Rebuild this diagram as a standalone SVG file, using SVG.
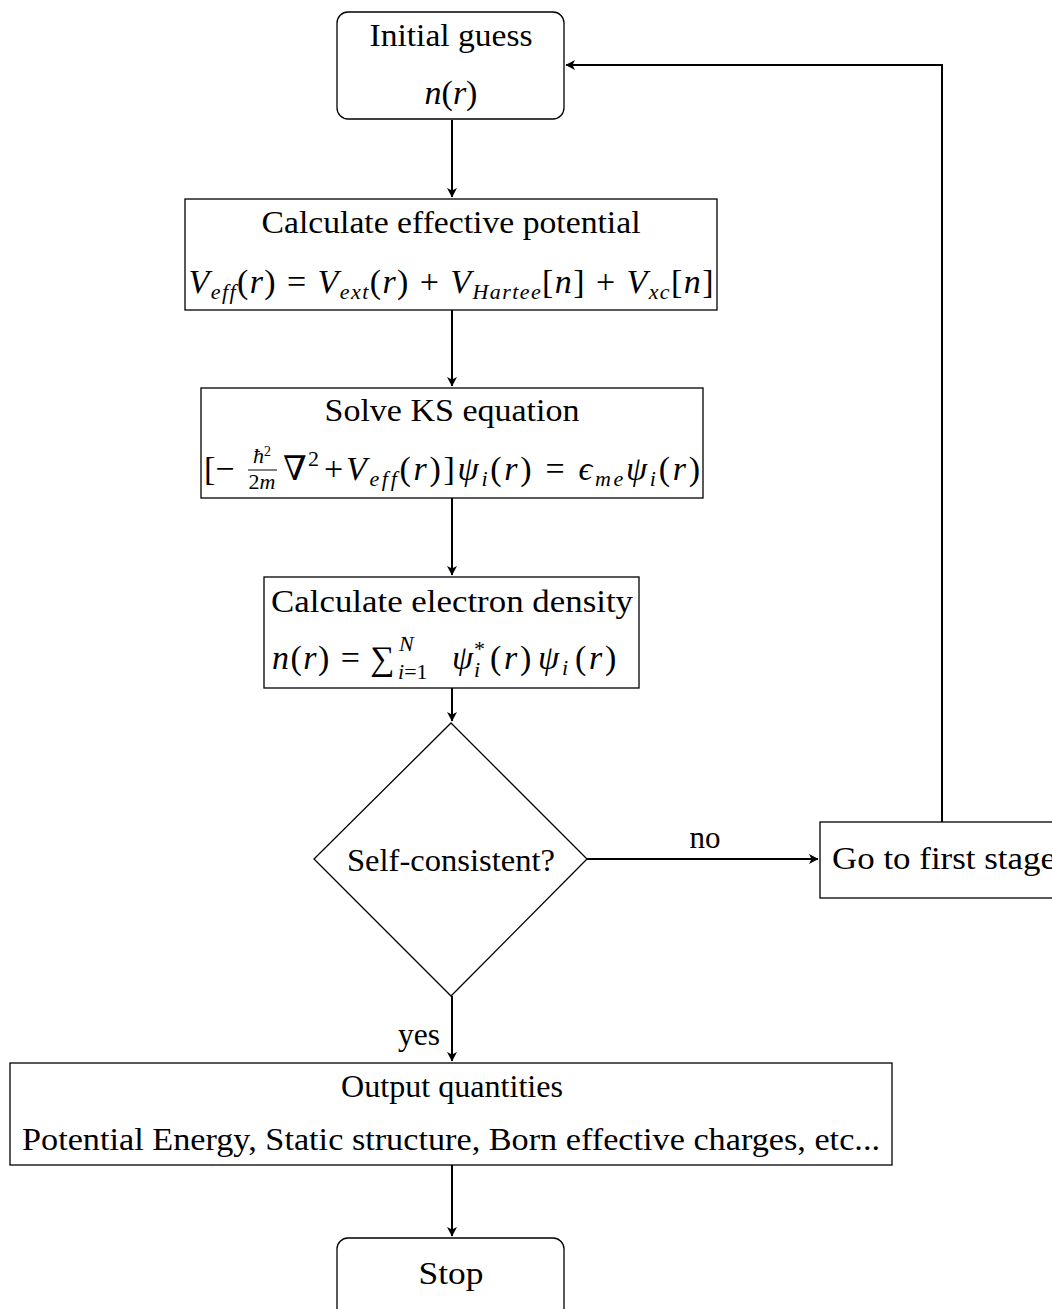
<svg xmlns="http://www.w3.org/2000/svg" width="1052" height="1309" viewBox="0 0 1052 1309">
<style>
.box{fill:#fff;stroke:#000;stroke-width:1.3}
.t{font-family:"Liberation Serif","DejaVu Serif",serif;font-size:32px;fill:#000}
.m{font-family:"Liberation Serif","DejaVu Serif",serif;font-size:34px;fill:#000}
.i{font-style:italic}
.s{font-size:22px}
.c{stroke:#000;stroke-width:2;fill:none}
</style>
<defs>
<marker id="ah" viewBox="-10 -6 12 12" refX="0" refY="0" markerWidth="12" markerHeight="12" markerUnits="userSpaceOnUse" orient="auto">
<path d="M0.5,0 L-9,-5 L-6.5,0 L-9,5 Z" fill="#000"/>
</marker>
</defs>
<rect width="1052" height="1309" fill="#fff"/>
<g id="connectors">
<line class="c" x1="452" y1="120" x2="452" y2="197" marker-end="url(#ah)"/>
<line class="c" x1="452" y1="310" x2="452" y2="386" marker-end="url(#ah)"/>
<line class="c" x1="452" y1="498" x2="452" y2="575" marker-end="url(#ah)"/>
<line class="c" x1="452" y1="688" x2="452" y2="721" marker-end="url(#ah)"/>
<line class="c" x1="587" y1="859" x2="818" y2="859" marker-end="url(#ah)"/>
<polyline class="c" points="942,822 942,65 566,65" marker-end="url(#ah)"/>
<line class="c" x1="452" y1="996" x2="452" y2="1061" marker-end="url(#ah)"/>
<line class="c" x1="452" y1="1165" x2="452" y2="1236" marker-end="url(#ah)"/>
<text class="t" x="705" y="848" text-anchor="middle" textLength="31" lengthAdjust="spacingAndGlyphs">no</text>
<text class="t" x="440" y="1045" text-anchor="end" textLength="42" lengthAdjust="spacingAndGlyphs">yes</text>
</g>
<g id="initial">
<rect class="box" x="337" y="12" width="227" height="107" rx="11"/>
<text class="t" x="451" y="46" text-anchor="middle" textLength="163" lengthAdjust="spacingAndGlyphs">Initial guess</text>
<text class="m" x="451" y="104" text-anchor="middle"><tspan class="i">n</tspan>(<tspan class="i">r</tspan>)</text>
</g>
<g id="effpot">
<rect class="box" x="185" y="199" width="532" height="111"/>
<text class="t" x="451" y="233" text-anchor="middle" textLength="379" lengthAdjust="spacingAndGlyphs">Calculate effective potential</text>
<text class="m" x="451" y="293" text-anchor="middle" textLength="525" lengthAdjust="spacing"><tspan class="i">V</tspan><tspan class="i s" dy="6">eff</tspan><tspan dy="-6">(</tspan><tspan class="i">r</tspan>) = <tspan class="i">V</tspan><tspan class="i s" dy="6">ext</tspan><tspan dy="-6">(</tspan><tspan class="i">r</tspan>) + <tspan class="i">V</tspan><tspan class="i s" dy="6">Hartee</tspan><tspan dy="-6">[</tspan><tspan class="i">n</tspan>] + <tspan class="i">V</tspan><tspan class="i s" dy="6">xc</tspan><tspan dy="-6">[</tspan><tspan class="i">n</tspan>]</text>
</g>
<g id="ks">
<rect class="box" x="201" y="388" width="502" height="110"/>
<text class="t" x="452" y="421" text-anchor="middle" textLength="255" lengthAdjust="spacingAndGlyphs">Solve KS equation</text>
<text class="m" x="204" y="480">[−</text>
<text class="m s" x="262" y="463" text-anchor="middle"><tspan class="i">ħ</tspan><tspan font-size="14" dy="-7">2</tspan></text>
<line x1="248" y1="470" x2="277" y2="470" stroke="#000" stroke-width="1"/>
<text class="m s" x="262" y="489" text-anchor="middle">2<tspan class="i">m</tspan></text>
<text class="m" x="283" y="480">∇</text>
<text class="m s" x="308" y="466">2</text>
<text class="m" x="324" y="480" textLength="376" lengthAdjust="spacing">+<tspan class="i">V</tspan><tspan class="i s" dy="6">eff</tspan><tspan dy="-6">(</tspan><tspan class="i">r</tspan>)]<tspan class="i">ψ</tspan><tspan class="i s" dy="6">i</tspan><tspan dy="-6">(</tspan><tspan class="i">r</tspan>) = <tspan class="i">ϵ</tspan><tspan class="i s" dy="6">me</tspan><tspan class="i" dy="-6">ψ</tspan><tspan class="i s" dy="6">i</tspan><tspan dy="-6">(</tspan><tspan class="i">r</tspan>)</text>
</g>
<g id="density">
<rect class="box" x="264" y="577" width="375" height="111"/>
<text class="t" x="452" y="612" text-anchor="middle" textLength="362" lengthAdjust="spacingAndGlyphs">Calculate electron density</text>
<text class="m" x="272" y="669" textLength="88" lengthAdjust="spacing"><tspan class="i">n</tspan>(<tspan class="i">r</tspan>) =</text>
<text class="m" x="370" y="670" font-size="36">∑</text>
<text class="m s i" x="399" y="651">N</text>
<text class="m s" x="398" y="679"><tspan class="i">i</tspan>=1</text>
<text class="m i" x="452" y="669">ψ</text>
<text class="m s" x="474" y="656">*</text>
<text class="m s i" x="474" y="677">i</text>
<text class="m" y="669"><tspan x="490">(</tspan><tspan class="i" x="504">r</tspan><tspan x="520">)</tspan><tspan class="i" x="538">ψ</tspan><tspan class="i s" x="562" y="675">i</tspan><tspan x="575" y="669">(</tspan><tspan class="i" x="589">r</tspan><tspan x="605">)</tspan></text>
</g>
<g id="decision">
<polygon class="box" points="451,723 587,859 451,996 314,859"/>
<text class="t" x="451" y="871" text-anchor="middle" textLength="208" lengthAdjust="spacingAndGlyphs">Self-consistent?</text>
</g>
<g id="goto">
<rect class="box" x="820" y="822" width="240" height="76"/>
<text class="t" x="832" y="869" textLength="224" lengthAdjust="spacingAndGlyphs">Go to first stage</text>
</g>
<g id="output">
<rect class="box" x="10" y="1063" width="882" height="102"/>
<text class="t" x="452" y="1097" text-anchor="middle" textLength="222" lengthAdjust="spacingAndGlyphs">Output quantities</text>
<text class="t" x="451" y="1150" text-anchor="middle" textLength="858" lengthAdjust="spacingAndGlyphs">Potential Energy, Static structure, Born effective charges, etc...</text>
</g>
<g id="stop">
<rect class="box" x="337" y="1238" width="227" height="90" rx="11"/>
<text class="t" x="451" y="1284" text-anchor="middle" textLength="65" lengthAdjust="spacingAndGlyphs">Stop</text>
</g>
</svg>
